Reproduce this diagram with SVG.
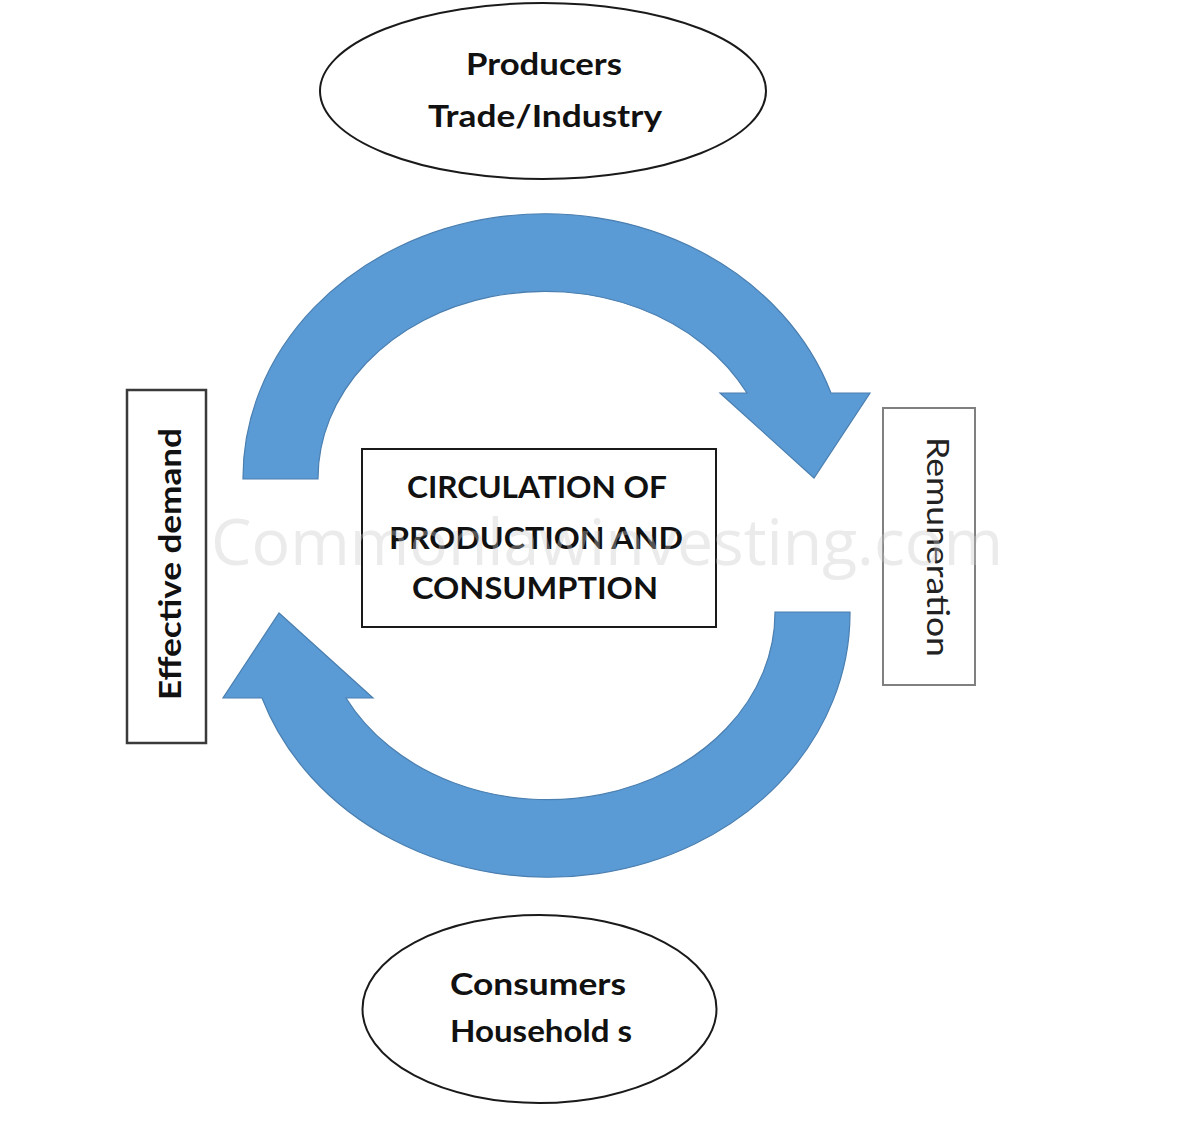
<svg xmlns="http://www.w3.org/2000/svg" width="1199" height="1125" viewBox="0 0 1199 1125">
<style>
.lbl{font-family:Lato,"Open Sans","Liberation Sans",sans-serif;font-weight:bold;font-size:30px;fill:#111;text-anchor:middle}
.reg{font-family:Lato,"Open Sans","Liberation Sans",sans-serif;font-weight:normal;font-size:30px;fill:#222;text-anchor:middle}
.node{fill:#fff;stroke:#1a1a1a;stroke-width:2}
.arrow{fill:#5b9bd5;stroke:#4a7fb0;stroke-width:1.2}
.wm{font-family:"Open Sans","Liberation Sans",sans-serif;font-size:64px;fill:#c8c8c8;opacity:0.36;text-anchor:middle}
</style>
<defs>
<path id="curvedArrow" d="M 243 479 A 302 264 0 0 1 831 393 L 870 393 L 814 478 L 720 393 L 747 393 A 227 187 0 0 0 318 479 Z"/>
</defs>
<rect width="1199" height="1125" fill="#fff"/>
<g id="connectors">
<use href="#curvedArrow" class="arrow"/>
<use href="#curvedArrow" class="arrow" transform="rotate(180 546.5 545.5)"/>
</g>
<g id="producers">
<ellipse class="node" cx="543" cy="91" rx="223" ry="88"/>
<text class="lbl" x="544" y="75" textLength="156" lengthAdjust="spacingAndGlyphs">Producers</text>
<text class="lbl" x="545" y="127" textLength="234" lengthAdjust="spacingAndGlyphs">Trade/Industry</text>
</g>
<g id="consumers">
<ellipse class="node" cx="539.5" cy="1009" rx="177" ry="94"/>
<text class="lbl" x="538" y="995" textLength="176" lengthAdjust="spacingAndGlyphs">Consumers</text>
<text class="lbl" x="541" y="1042" textLength="182" lengthAdjust="spacingAndGlyphs">Household s</text>
</g>
<g id="circulation">
<rect class="node" x="362" y="449" width="354" height="178"/>
<text class="lbl" x="537" y="498" textLength="260" lengthAdjust="spacingAndGlyphs">CIRCULATION OF</text>
<text class="lbl" x="536" y="549" textLength="294" lengthAdjust="spacingAndGlyphs">PRODUCTION AND</text>
<text class="lbl" x="535" y="599" textLength="246" lengthAdjust="spacingAndGlyphs">CONSUMPTION</text>
</g>
<g id="effective-demand">
<rect x="127" y="390" width="79" height="353" fill="#fff" stroke="#3a3a3a" stroke-width="2.5"/>
<text class="lbl" transform="translate(181 564) rotate(-90)" x="0" y="0" textLength="272" lengthAdjust="spacingAndGlyphs">Effective demand</text>
</g>
<g id="remuneration">
<rect x="883" y="408" width="92" height="277" fill="#fff" stroke="#808080" stroke-width="2"/>
<text class="reg" transform="translate(927 547) rotate(90)" x="0" y="0" textLength="220" lengthAdjust="spacingAndGlyphs">Remuneration</text>
</g>
<text class="wm" x="607" y="565" textLength="792" lengthAdjust="spacingAndGlyphs">Commonlawinvesting.com</text>
</svg>
